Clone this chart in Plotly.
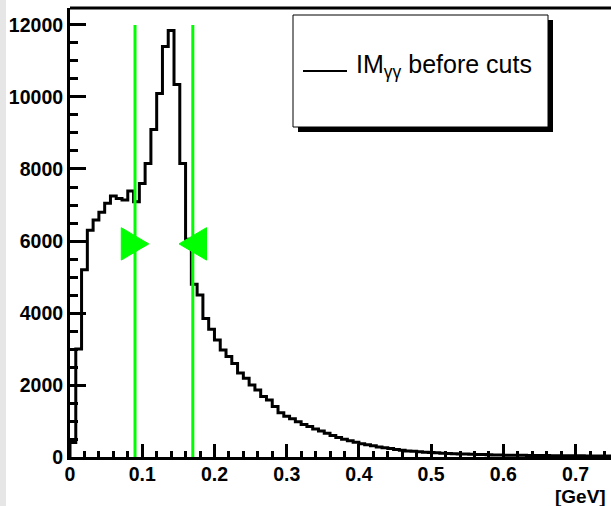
import plotly.graph_objects as go

# ---- data ----
bin_width = 0.008
counts = [400, 3000, 5200, 6300, 6580, 6800, 7050, 7250, 7180, 7140,
          7390, 7090, 7600, 8150, 9100, 10100, 11400, 11850, 10350, 8150,
          6050, 4800, 4500, 3850, 3550, 3250, 2970, 2790, 2600, 2330,
          2190, 2000, 1860, 1680, 1580, 1400, 1230, 1130, 1060, 980,
          900, 850, 780, 720, 660, 600, 540, 490, 450, 410,
          370, 340, 310, 280, 255, 235, 210, 190, 170, 160,
          145, 135, 125, 115, 105, 100, 92, 85, 80, 75,
          70, 66, 62, 58, 55, 52, 50, 48, 46, 44,
          42, 40, 39, 37, 36, 35, 34, 33, 32, 31,
          30, 29, 28, 27, 26, 26, 25, 25, 24, 24]
cuts = [0.09, 0.17]
cut_line_top = 12000
arrow_y = 5920
arrow_half_h = 450
arrow_half_w = 0.019
x_tick_vals = [0, 0.1, 0.2, 0.3, 0.4, 0.5, 0.6, 0.7]
x_tick_text = ["0", "0.1", "0.2", "0.3", "0.4", "0.5", "0.6", "0.7"]
y_tick_vals = [0, 2000, 4000, 6000, 8000, 10000, 12000]
y_tick_text = ["0", "2000", "4000", "6000", "8000", "10000", "12000"]
legend_label = "IM<sub>γγ</sub> before cuts"
x_unit = "[GeV]"

# ---- layout geometry (pixels) ----
W, H = 611, 506
L, R, T, B = 70, 0, 8, 49
pw, ph = W - L - R, H - T - B
X_MAX = 0.749
Y_MAX = 12472

def px2x(px):
    return (px - L) / pw

def py2y(py):
    return (H - B - py) / ph

n = len(counts)
edges = [i * bin_width for i in range(n + 1)]
hx = [0.0] + edges[:n] + [edges[n]]
hy = [0] + counts + [counts[-1]]

fig = go.Figure()
fig.add_trace(go.Scatter(x=hx, y=hy, mode="lines", line=dict(color="black", width=3, shape="hv"),
                         hoverinfo="skip", showlegend=False))

green = "#00ff00"
for c in cuts:
    fig.add_trace(go.Scatter(x=[c, c], y=[0, cut_line_top], mode="lines",
                             line=dict(color=green, width=3), showlegend=False, hoverinfo="skip"))
# arrowheads: left cut points right, right cut points left
for c, d in zip(cuts, [1, -1]):
    fig.add_trace(go.Scatter(
        x=[c - d * arrow_half_w, c + d * arrow_half_w, c - d * arrow_half_w, c - d * arrow_half_w],
        y=[arrow_y + arrow_half_h, arrow_y, arrow_y - arrow_half_h, arrow_y + arrow_half_h],
        mode="lines", fill="toself", fillcolor=green, line=dict(color=green, width=1),
        showlegend=False, hoverinfo="skip"))

tickfont = dict(family="Liberation Sans, Arial, sans-serif", size=19.5, color="black", weight="bold")

fig.update_layout(
    width=W, height=H,
    margin=dict(l=L, r=R, t=T, b=B, pad=0),
    paper_bgcolor="white", plot_bgcolor="white",
    showlegend=False,
    xaxis=dict(range=[0, X_MAX], showgrid=False, zeroline=False,
               showline=True, linecolor="black", linewidth=3,
               ticks="inside", tickwidth=3, ticklen=13, tickcolor="black",
               tickvals=x_tick_vals, ticktext=x_tick_text, tickfont=tickfont,
               ticklabelstandoff=-2,
               minor=dict(dtick=0.02, tick0=0, ticks="inside", ticklen=6, tickwidth=3, tickcolor="black", showgrid=False)),
    yaxis=dict(range=[0, Y_MAX], showgrid=False, zeroline=False,
               showline=True, linecolor="black", linewidth=3,
               ticks="inside", tickwidth=3, ticklen=16, tickcolor="black",
               tickvals=y_tick_vals, ticktext=y_tick_text, tickfont=tickfont,
               minor=dict(dtick=500, tick0=0, ticks="inside", ticklen=8, tickwidth=3, tickcolor="black", showgrid=False)),
)

shapes = []
# left gray strip of the canvas
shapes.append(dict(type="rect", xref="paper", yref="paper", x0=px2x(0), x1=px2x(6), y0=py2y(H), y1=py2y(0),
                   fillcolor="#e6e6e6", line=dict(width=0), layer="below"))
# top frame line
shapes.append(dict(type="line", xref="paper", yref="paper", x0=0, x1=1, y0=1, y1=1,
                   line=dict(color="black", width=3)))
# legend shadow + box
shapes.append(dict(type="rect", xref="paper", yref="paper", x0=px2x(298), x1=px2x(553), y0=py2y(132), y1=py2y(20),
                   fillcolor="black", line=dict(width=0)))
shapes.append(dict(type="rect", xref="paper", yref="paper", x0=px2x(293), x1=px2x(548), y0=py2y(127), y1=py2y(15),
                   fillcolor="white", line=dict(color="black", width=1)))
shapes.append(dict(type="line", xref="paper", yref="paper", x0=px2x(303), x1=px2x(347), y0=py2y(71), y1=py2y(71),
                   line=dict(color="black", width=2)))
fig.update_layout(shapes=shapes)

fig.add_annotation(xref="paper", yref="paper", x=px2x(354), y=py2y(66), xanchor="left", yanchor="middle",
                   text=legend_label, showarrow=False,
                   font=dict(family="Liberation Sans, Arial, sans-serif", size=25, color="black"))
fig.add_annotation(xref="paper", yref="paper", x=px2x(608), y=py2y(496), xanchor="right", yanchor="middle",
                   text=x_unit, showarrow=False, font=dict(family="Liberation Sans, Arial, sans-serif",
                                                            size=19, color="black", weight="bold"))

fig.write_html("out.html")
